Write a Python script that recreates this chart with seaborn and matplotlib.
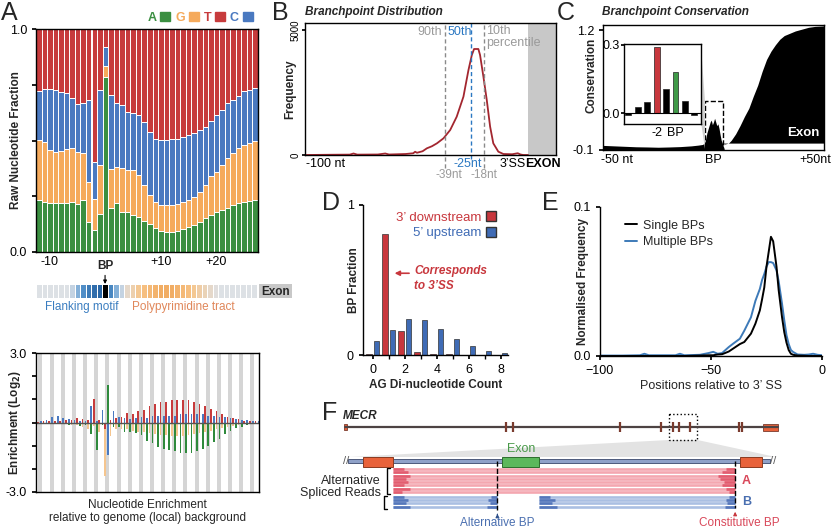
import numpy as np
import pandas as pd
import matplotlib.pyplot as plt
import seaborn as sns
from matplotlib.patches import Rectangle, Patch, Polygon
from matplotlib.colors import LinearSegmentedColormap

# --- Panel A: raw nucleotide fraction per position (BP = 0) ---
positions = list(range(-12, 28))
nuc_A = [.233, .226, .221, .221, .221, .221, .226, .215, .233, .136, .100, .170, .786, .196,
         .221, .180, .178, .166, .158, .137, .124, .106, .094, .091, .091, .094, .103, .112,
         .123, .136, .151, .167, .181, .188, .199, .211, .218, .226, .230, .235]
nuc_G = [.269, .269, .236, .226, .232, .241, .239, .235, .209, .179, .136, .220, .050, .176,
         .162, .195, .190, .202, .187, .163, .132, .118, .118, .120, .120, .123, .123, .120,
         .122, .133, .151, .172, .178, .202, .221, .233, .247, .255, .259, .263]
nuc_C = [.220, .236, .272, .278, .266, .249, .227, .212, .228, .367, .169, .336, .084, .332,
         .284, .284, .262, .254, .269, .283, .281, .283, .290, .291, .294, .291, .291, .291,
         .290, .278, .260, .248, .257, .247, .247, .239, .236, .239, .239, .239]
nuc_T = [.278, .269, .271, .275, .281, .289, .308, .338, .330, .318, .595, .274, .080, .296,
         .333, .341, .370, .378, .386, .417, .463, .493, .498, .498, .495, .492, .483, .477,
         .465, .453, .438, .413, .384, .363, .333, .317, .299, .280, .272, .263]

# motif strip: negative = flanking motif (blue), positive = polypyrimidine tract (orange)
strip_score = [0, 0, 0, 0, 0, 0, -.1, -.35, -.6, -.75, -.85, -.9, np.nan, -.65, -.35, -.1,
               .15, .3, .45, .55, .6, .65, .7, .7, .7, .65, .6, .55, .45, .35, .25, .15, .05,
               0, 0, 0, 0, 0, 0, 0]

# enrichment (log2) per position
enr_A = [-.03, -.05, -.08, -.08, -.05, -.1, -.05, -.15, -.1, -.5, -1.2, -.1, 1.6, -.2, -.2, -.4,
         -.4, -.45, -.55, -.8, -.9, -1.05, -1.15, -1.2, -1.25, -1.3, -1.3, -1.3, -1.25, -1.15,
         -1.0, -.85, -.7, -.5, -.35, -.25, -.2, -.12, -.05, -.03]
enr_G = [-.02, -.02, -.05, -.05, -.05, -.05, -.1, -.1, -.2, -.3, -.15, -.4, -2.3, -.6, -.3, -.3,
         -.3, -.35, -.4, -.4, -.45, -.5, -.55, -.55, -.6, -.6, -.6, -.55, -.5, -.45, -.4, -.35,
         -.3, -.25, -.2, -.15, -.1, -.05, -.03, -.02]
enr_C = [.05, .1, .25, .28, .2, .15, .1, .05, .05, .7, .05, .55, -1.4, .5, .25, .2, .15, .2, .25,
         .2, .3, .3, .3, .3, .3, .35, .35, .35, .35, .35, .3, .3, .25, .25, .2, .15, .12, .12,
         .08, .08]
enr_T = [.03, .05, .05, .05, .05, .1, .1, .2, .15, .1, 1.0, .1, -.3, .1, .2, .25, .4, .35, .5,
         .55, .7, .8, .9, .9, .95, .95, .95, .95, .9, .8, .7, .6, .5, .35, .25, .2, .15, .05,
         .05, .05]

# --- Panel B: branchpoint distribution ---
bp_pos = [-114, -100, -90, -88, -86, -75, -71, -69, -60, -56, -55, -54, -51, -48.7, -46, -43.3,
          -39.8, -36.2, -32.7, -29.1, -26.4, -24.6, -23.4, -21.1, -20.2, -18.4, -16.6, -14.8,
          -13.1, -10.4, -7.7, -3, 0, 1.5, 3, 5.5]
bp_freq = [0, 10, 15, 60, 15, 20, 60, 20, 40, 70, 130, 90, 150, 267, 350, 467, 667, 1000, 1533,
           2333, 3400, 4000, 4240, 4240, 4000, 3133, 2200, 1133, 467, 133, 40, 30, 70, 20, 0, 0]
pct_pos = [-39, -25, -18]

# --- Panel C: conservation ---
cons_pos = [-50, -45, -40, -35, -30, -25, -20, -15, -10, -7, -5, -4, -3.5, -3, -2.5, -2, -1.5,
            -1, -0.5, 0, 0.5, 1, 1.5, 2, 2.5, 3, 3.5, 4, 5, 6, 7, 8, 10, 12, 14, 16, 18, 20, 22,
            24, 26, 28, 30, 32, 34, 37, 40, 43, 46, 50]
cons_val = [-.055, -.06, -.065, -.07, -.072, -.075, -.072, -.068, -.06, -.052, -.045, -.03, .02,
            .08, .12, .16, .2, .22, .17, .2, .24, .2, .16, .18, .13, .06, 0, -.03, -.04, -.035,
            -.025, 0, .07, .16, .26, .35, .48, .6, .75, .88, .97, 1.04, 1.1, 1.14, 1.16, 1.19,
            1.21, 1.23, 1.24, 1.245]
inset_pos = [-5, -4, -3, -2, -1, 0, 1, 2]
inset_val = [-.007, .029, .048, .29, .105, .183, .056, -.007]

# --- Panel D: AG dinucleotide counts ---
ag_count = [0, 1, 2, 3, 4, 5, 6, 7, 8]
frac_down = [.005, .804, .16, .022, .005, .005, .002, .001, .001]
frac_up = [.093, .167, .238, .233, .173, .109, .06, .027, .011]

# --- Panel E: single vs multiple BPs ---
e_pos = [-100, -90, -82, -80, -78, -70, -66, -64, -62, -55, -51, -49, -47, -45, -42, -40, -37,
         -35, -32, -30, -28, -27, -26, -25, -24, -23, -22, -20.5, -19.5, -18, -17, -16, -15,
         -14, -13, -11, -8, -6, -4, -2, 0]
e_single = [0, 0, 0, 0, 0, 0, 0, 0, 0, .0003, .0005, .0005, .001, .0012, .003, .005, .008, .0094,
            .015, .0217, .0306, .038, .046, .06, .07, .08, .077, .06, .044, .026, .016, .009,
            .004, .0015, .0008, .0003, .0002, 0, 0, 0, 0]
e_multi = [.0003, .0003, .0005, .0015, .0005, .0005, .0005, .0015, .0005, .0008, .002, .0028,
           .0015, .002, .006, .0083, .0116, .017, .026, .037, .045, .051, .055, .06, .063, .063,
           .0624, .0575, .05, .035, .024, .014, .008, .004, .0027, .001, .0008, .001, .0015,
           .0008, .0005]

# --- Panel F: MECR gene model (gene coordinates 0-100) ---
gene_exons = [37.2, 38.7, 63.4, 72.9, 75.8, 77.2, 79.7, 91.1, 91.8]
zoom_box = [74.8, 81.4]
track_exons = [(4.2, 11.1), (91.2, 96.4)]
alt_exon = (36.3, 44.9)
readA_span = (11.1, 90.1)
readA_dark_left = [2.5, 3.5, 4.0, 3.0, 3.5, 2.5, 4.0, 2.0]
readA_dark_right = [2.0, 3.0, 4.0, 3.5, 2.5, 3.0, 2.0, 1.5]
readB_spans = [(11.1, 35.2), (44.9, 90.1)]
readB_dark = [2.5, 3.5, 3.0, 4.0]
alt_bp, const_bp = 35.2, 90.1

GREEN, ORANGE, BLUE, RED = '#3b8f41', '#f5aa5c', '#4a79c0', '#c73b3c'
D_RED, D_BLUE = '#c8373d', '#3f6bb5'

sns.set_theme(style='ticks')
plt.rcParams['font.family'] = ['Liberation Sans', 'DejaVu Sans']
plt.rcParams.update({'axes.edgecolor': 'black', 'axes.linewidth': 1.0,
                     'xtick.color': 'black', 'ytick.color': 'black',
                     'xtick.labelsize': 9, 'ytick.labelsize': 9,
                     'axes.labelsize': 8.5, 'axes.labelweight': 'bold',
                     'xtick.major.size': 3, 'ytick.major.size': 3})

W, H = 834, 528
fig = plt.figure(figsize=(W / 100, H / 100), dpi=100)


def add_ax(l, t, r, b, **kw):
    return fig.add_axes([l / W, 1 - b / H, (r - l) / W, (b - t) / H], **kw)


def ftext(x, y, s, **kw):
    fig.text(x / W, 1 - y / H, s, **kw)


for letter, x, y in [('A', 1, 1), ('B', 272, 1), ('C', 557, 1), ('D', 322, 191), ('E', 542, 191), ('F', 322, 401)]:
    ftext(x, y, letter, fontsize=18, va='top')

# ---------------- A top: stacked fractions ----------------
ax = add_ax(36, 29, 258, 252)
bottom = np.zeros(len(positions))
for vals, col in zip([nuc_A, nuc_G, nuc_C, nuc_T], [GREEN, ORANGE, BLUE, RED]):
    ax.bar(positions, vals, bottom=bottom, width=1.0, color=col, edgecolor='white', linewidth=0.7)
    bottom += np.array(vals)
ax.set_xlim(-12.5, 27.5)
ax.set_ylim(0, 1)
ax.set_yticks([0, .25, .5, .75, 1])
ax.set_yticklabels(['0.0', '', '', '', '1.0'])
ax.set_xticks([-10, 10, 20])
ax.set_xticklabels(['-10', '+10', '+20'])
ax.tick_params(axis='x', length=0, pad=3)
ax.set_ylabel('Raw Nucleotide Fraction')
ax.yaxis.set_label_coords(-0.063, 0.5)
handles = [Patch(color=c) for c in [GREEN, ORANGE, RED, BLUE]]
ax.legend(handles, ['A', 'G', 'T', 'C'], ncol=4, markerfirst=False, loc='lower right',
          bbox_to_anchor=(1.01, 0.99), frameon=False, handlelength=0.8, handleheight=0.8,
          handletextpad=0.3, columnspacing=0.4, labelcolor=[GREEN, ORANGE, RED, BLUE],
          prop={'weight': 'bold', 'size': 9}, borderpad=0.1)

# ---------------- A strip ----------------
ax = add_ax(36, 284, 257, 298)
strip_cmap = LinearSegmentedColormap.from_list('strip', ['#1d5a9c', '#5d9bd2', '#dde1e6', '#f7c58a', '#e98a2c'])
arr = np.array([strip_score])
sns.heatmap(arr, ax=ax, cmap=strip_cmap, vmin=-1, vmax=1, cbar=False, mask=np.isnan(arr),
            linewidths=0.6, linecolor='white', xticklabels=False, yticklabels=False)
ax.set_facecolor('black')
ax.add_patch(Rectangle((40.3, 0), 6.0, 1, facecolor='#c8c8c8', lw=0, clip_on=False))
ax.text(43.3, 0.55, 'Exon', ha='center', va='center', fontsize=8.5, fontweight='bold')
ax.annotate('BP', xy=(12.5, 0), xytext=(12.5, -0.85), ha='center', va='bottom', fontsize=8.5,
            fontweight='bold', annotation_clip=False,
            arrowprops=dict(arrowstyle='-|>', color='black', lw=0.8, mutation_scale=5, shrinkA=0, shrinkB=0))
ax.text(8.3, 1.65, 'Flanking motif', color='#3a7dc0', ha='center', va='center', fontsize=8.5)
ax.text(26.6, 1.65, 'Polypyrimidine tract', color='#e0875a', ha='center', va='center', fontsize=8.5)

# ---------------- A bottom: enrichment ----------------
ax = add_ax(36, 353, 259, 492)
for p in positions[::2]:
    ax.axvspan(p - 0.06, p + 0.66, color='#d5d5d5', lw=0)
pos = np.array(positions)
ax.bar(pos - 0.15, enr_G, width=0.3, color='#f5c58e', linewidth=0)
ax.bar(pos - 0.15, enr_T, width=0.3, color=RED, linewidth=0)
ax.bar(pos + 0.4, enr_A, width=0.3, color='#2f8a3c', linewidth=0)
ax.bar(pos + 0.4, enr_C, width=0.3, color=BLUE, linewidth=0)
ax.axhline(0, color='#555555', lw=1)
ax.set_xlim(-12.5, 27.5)
ax.set_ylim(-3, 3)
ax.set_yticks([-3, -2, -1, 0, 1, 2, 3])
ax.set_yticklabels(['-3.0', '', '', '', '', '', '3.0'])
ax.set_xticks([])
ax.set_ylabel(r'Enrichment (Log$_\mathbf{2}$)')
ax.yaxis.set_label_coords(-0.058, 0.5)
ax.set_xlabel('Nucleotide Enrichment\nrelative to genome (local) background', fontweight='normal',
              fontsize=8.5, labelpad=5, linespacing=1.1)

# ---------------- B: branchpoint distribution ----------------
ax = add_ax(305, 23, 556, 155)
ax.axvspan(5.5, 20.5, color='#c8c8c8', lw=0)
sns.lineplot(x=bp_pos, y=bp_freq, ax=ax, color='#a3262f', lw=1.3)
ax.set_xlim(-114, 20.5)
ax.set_ylim(0, 5280)
for p, c, lo in zip(pct_pos, ['#8a8a8a', '#2b78c2', '#8a8a8a'], [-520, -150, -520]):
    ax.plot([p, p], [lo, 5280], ls='--', lw=1, color=c, clip_on=False, dashes=(3, 2))
ax.set_yticks([0, 5000])
ax.set_yticklabels(['0', '5000'], rotation=90, va='center', fontsize=7)
ax.tick_params(axis='y', length=2, pad=1)
ax.set_ylabel('Frequency')
ax.yaxis.set_label_coords(-0.036, 0.5)
ax.set_xticks([-103, -26.8, -2.7, 13.5])
ax.set_xticklabels(['-100 nt', '-25nt', '3\u2019SS', 'EXON'])
ax.tick_params(axis='x', length=0, pad=2)
xl = ax.get_xticklabels()
xl[1].set_color('#2b78c2')
xl[3].set_fontweight('bold')
ax.text(-37.1, -560, '-39nt', color='#9a9a9a', ha='center', va='top', fontsize=8.5)
ax.text(-18, -560, '-18nt', color='#9a9a9a', ha='center', va='top', fontsize=8.5)
ax.text(-40.5, 4930, '90th', color='#9a9a9a', ha='right', va='center', fontsize=9)
ax.text(-37.8, 4930, '50th', color='#2b78c2', ha='left', va='center', fontsize=9)
ax.text(-16.8, 5200, '10th\npercentile', color='#9a9a9a', ha='left', va='top', fontsize=9,
        linespacing=0.95)
ftext(305, 12.5, 'Branchpoint Distribution', fontsize=8.5, fontweight='bold', fontstyle='italic', va='center')

# ---------------- C: conservation ----------------
ax = add_ax(603, 25, 824, 150)
cp = np.array(cons_pos)
cv = np.array(cons_val)
ax.fill_between(cp, -0.11, cv, where=cp <= 4, color='black', lw=0, interpolate=True)
ax.fill_between(cp, -0.03, cv, where=cp >= 4, color='black', lw=0, interpolate=True)
ax.add_patch(Rectangle((-4, -0.093), 8.4, 0.525, fill=False, ls='--', lw=1, ec='black'))
ax.set_xlim(-50, 50)
ax.set_ylim(-0.105, 1.255)
ax.set_yticks([-0.1, 1.2])
ax.set_yticklabels(['-0.1', '1.2'])
ax.set_xticks([-43.5, 0, 46])
ax.set_xticklabels(['-50 nt', 'BP', '+50nt'])
ax.tick_params(axis='x', length=0, pad=3)
ax.set_ylabel('Conservation')
ax.yaxis.set_label_coords(-0.027, 0.6)
ax.text(48, 0.08, 'Exon', color='white', fontweight='bold', fontsize=9.5, ha='right', va='center')
ftext(602, 12.5, 'Branchpoint Conservation', fontsize=8.5, fontweight='bold', fontstyle='italic', va='center')

fig.patches.append(Polygon([(701 / W, 1 - 46 / H), (701 / W, 1 - 122 / H), (705 / W, 1 - 149 / H),
                            (705 / W, 1 - 101 / H)], closed=True, transform=fig.transFigure,
                           facecolor='#cfcfcf', edgecolor='none', zorder=3))

axi = add_ax(624, 44, 701, 124)
axi.set_zorder(5)
inset_colors = [D_RED if p == -2 else '#3f9a48' if p == 0 else 'black' for p in inset_pos]
axi.bar(inset_pos, inset_val, width=0.62, color=inset_colors, edgecolor='#222222', linewidth=0.5)
axi.axhline(0, color='black', lw=0.8)
axi.set_xlim(-5.45, 2.7)
axi.set_ylim(-0.047, 0.304)
axi.set_yticks([0, 0.3])
axi.set_yticklabels(['0.0', '0.3'])
axi.set_xticks([-2, 0])
axi.set_xticklabels(['-2', 'BP'])
axi.tick_params(axis='x', length=0, pad=2)
axi.tick_params(axis='y', length=2, pad=1)

# ---------------- D: AG dinucleotide ----------------
ax = add_ax(363, 205, 508, 355)
df_ag = pd.DataFrame({'count': ag_count * 2, 'frac': frac_down + frac_up,
                      'dir': ["3' downstream"] * 9 + ["5' upstream"] * 9})
sns.barplot(data=df_ag, x='count', y='frac', hue='dir', palette=[D_RED, D_BLUE], native_scale=True,
            width=0.9, gap=0.25, errorbar=None, saturation=1, edgecolor='#333333', linewidth=0.5,
            ax=ax, legend=False)
ax.set_xlim(-0.6, 8.45)
ax.set_ylim(0, 1)
ax.set_yticks([0, 1])
ax.set_yticklabels(['0', '1'])
ax.set_xticks([0, 2, 4, 6, 8])
ax.set_xticks([1, 3, 5, 7], minor=True)
ax.tick_params(axis='x', which='minor', length=3, width=1)
sns.despine(ax=ax)
ax.set_xlabel('AG Di-nucleotide Count', labelpad=2)
ax.set_ylabel('BP Fraction')
ax.yaxis.set_label_coords(-0.02, 0.5)
ax.legend([Patch(facecolor=D_RED, edgecolor='#333333'), Patch(facecolor=D_BLUE, edgecolor='#333333')],
          ['3\u2019 downstream', '5\u2019 upstream'], loc='upper right', bbox_to_anchor=(1.0, 1.04),
          markerfirst=False, frameon=False, labelcolor=[D_RED, D_BLUE], fontsize=9.5,
          handlelength=0.8, handleheight=0.8, handletextpad=0.35, labelspacing=0.25)
ax.annotate('', xy=(1.2, 0.545), xytext=(2.45, 0.545),
            arrowprops=dict(arrowstyle='-|>', color=D_RED, lw=1.2, mutation_scale=7))
ax.text(2.6, 0.598, 'Corresponds\nto 3\u2019SS', color=D_RED, fontweight='bold', fontstyle='italic',
        fontsize=8.5, va='top', ha='left', linespacing=1.25)

# ---------------- E: single vs multiple ----------------
ax = add_ax(600, 207, 822, 356)
sns.lineplot(x=e_pos, y=e_multi, ax=ax, color='#3d7ab8', lw=1.4, label='Multiple BPs')
sns.lineplot(x=e_pos, y=e_single, ax=ax, color='black', lw=1.4, label='Single BPs')
ax.set_xlim(-100, 0)
ax.set_ylim(0, 0.1)
ax.set_yticks([0, 0.1])
ax.set_yticklabels(['0.0', '0.1'])
ax.set_xticks([-100, -50, 0])
sns.despine(ax=ax)
ax.set_ylabel('Normalised Frequency')
ax.yaxis.set_label_coords(-0.05, 0.5)
ax.set_xlabel('Positions relative to 3\u2019 SS', fontweight='normal', fontsize=9, labelpad=2)
h, lab = ax.get_legend_handles_labels()
ax.legend(h[::-1], lab[::-1], loc='upper left', bbox_to_anchor=(0.06, 0.99), frameon=False,
          fontsize=9, handlelength=1.0, handletextpad=0.5, labelspacing=0.35)

# ---------------- F: MECR example ----------------
axf = add_ax(300, 395, 834, 528)
axf.set_xlim(-45 / 4.33, 100 + 56 / 4.33)
axf.set_ylim(133, 0)
axf.axis('off')
GENE_Y, TRACK_Y = 32, 66
axf.text(-0.5, 21, 'MECR', fontsize=8.5, fontweight='bold', fontstyle='italic', va='center')
axf.add_patch(Polygon([(zoom_box[0], 45), (zoom_box[1], 45), (99.5, 62), (1.0, 62)],
                      facecolor='#e3e3e3', edgecolor='none'))
axf.plot([0, 100], [GENE_Y, GENE_Y], color='#4d4343', lw=1.6)
axf.vlines(gene_exons, GENE_Y - 5, GENE_Y + 5, color='#7a3b2e', lw=1.6)
axf.add_patch(Rectangle((-0.2, GENE_Y - 3), 0.6, 6, facecolor='#e8623a', edgecolor='#7a3b2e', lw=0.6))
axf.add_patch(Rectangle((96.6, GENE_Y - 3.5), 3.4, 7, facecolor='#e8623a', edgecolor='#7a3b2e', lw=0.6))
axf.add_patch(Rectangle((zoom_box[0], 19), zoom_box[1] - zoom_box[0], 26, fill=False, ls=':', lw=1, ec='black'))

axf.add_patch(Rectangle((0.8, TRACK_Y - 2), 97.4, 4, facecolor='#8fa1c8', edgecolor='#39476b', lw=0.6))
axf.text(0.3, TRACK_Y, '//', ha='center', va='center', fontsize=8, color='#555555')
axf.text(98.8, TRACK_Y, '//', ha='center', va='center', fontsize=8, color='#555555')
for x0, x1 in track_exons:
    axf.add_patch(Rectangle((x0, TRACK_Y - 4.5), x1 - x0, 10, facecolor='#e8623a', edgecolor='#8a3a20', lw=0.7, zorder=3))
axf.add_patch(Rectangle((alt_exon[0], TRACK_Y - 4.5), alt_exon[1] - alt_exon[0], 10, facecolor='#5cb85c',
                        edgecolor='#2d6e2d', lw=0.7, zorder=3))
axf.text(np.mean(alt_exon), TRACK_Y - 11.5, 'Exon', color='#4a9a4a', ha='center', va='center', fontsize=9)

for i, (dl, dr) in enumerate(zip(readA_dark_left, readA_dark_right)):
    y = 74 + 3.25 * i
    axf.hlines(y, readA_span[0], readA_span[1], color='#f4a7b0', lw=1.9)
    axf.hlines(y, readA_span[0], readA_span[0] + dl, color='#e25d70', lw=1.9)
    axf.hlines(y, readA_span[1] - dr, readA_span[1], color='#e25d70', lw=1.9)
for i, d in enumerate(readB_dark):
    y = 102 + 3.2 * i
    for x0, x1 in readB_spans:
        axf.hlines(y, x0, x1, color='#aabfe2', lw=1.9)
        axf.hlines(y, x0, x0 + d, color='#5577bb', lw=1.9)
        axf.hlines(y, x1 - d * 0.6, x1, color='#5577bb', lw=1.9)

axf.vlines(alt_bp, TRACK_Y, 115, color='black', ls='--', lw=1)
axf.vlines(const_bp, TRACK_Y, 113, color='black', ls='--', lw=1)
axf.annotate('', xy=(alt_bp, 116), xytext=(alt_bp, 122.5),
             arrowprops=dict(arrowstyle='-|>', color='#2d4f8a', lw=0.8, mutation_scale=5))
axf.annotate('', xy=(const_bp, 114), xytext=(const_bp, 122.5),
             arrowprops=dict(arrowstyle='-|>', color='#c8373d', lw=0.8, mutation_scale=5))
axf.text(alt_bp, 127.5, 'Alternative BP', color='#4a6fb0', ha='center', va='center', fontsize=8.5)
axf.text(const_bp + 0.9, 127.5, 'Constitutive BP', color='#d9485a', ha='center', va='center', fontsize=8.5)
axf.text(91.6, 86, 'A', color='#d9485a', fontweight='bold', fontsize=9, va='center')
axf.text(91.6, 107, 'B', color='#4a6fb0', fontweight='bold', fontsize=9, va='center')
axf.plot([10.3, 9.6, 9.6, 10.3], [72.5, 72.5, 98.5, 98.5], color='black', lw=1, clip_on=False)
axf.plot([9.8, 9.1, 9.1, 9.8], [101, 101, 113.5, 113.5], color='black', lw=1, clip_on=False)
axf.text(8.3, 92, 'Alternative\nSpliced Reads', ha='right', va='center', fontsize=9, linespacing=1.1)

fig.savefig('out.png', dpi=100)
